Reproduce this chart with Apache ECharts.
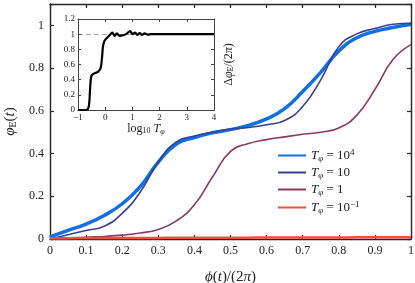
<!DOCTYPE html>
<html>
<head>
<meta charset="utf-8">
<script src="https://cdn.jsdelivr.net/npm/echarts@6/dist/echarts.min.js"></script>
<style>html,body{margin:0;padding:0;background:#fff}#c{width:415px;height:283px}</style>
</head>
<body>
<div id="c"></div>
<script>
// ---- data ----
var phi = [0, 0.05, 0.1, 0.15, 0.2, 0.25, 0.3, 0.35, 0.4, 0.45, 0.5, 0.55, 0.6, 0.65, 0.7, 0.75, 0.8, 0.85, 0.9, 0.95, 1];
var seriesNames = ['T1e4', 'T10', 'T1', 'T0.1'];
var valT1e4 = [0.01, 0.04, 0.07, 0.11, 0.165, 0.245, 0.36, 0.445, 0.475, 0.497, 0.512, 0.532, 0.562, 0.61, 0.69, 0.78, 0.88, 0.942, 0.972, 0.99, 1.005];
var valT10 = [0.0, 0.02, 0.04, 0.06, 0.12, 0.22, 0.36, 0.455, 0.482, 0.5, 0.515, 0.522, 0.535, 0.555, 0.62, 0.745, 0.9, 0.96, 0.985, 1.005, 1.01];
var valT1 = [0.0, 0.003, 0.008, 0.012, 0.018, 0.028, 0.045, 0.085, 0.16, 0.29, 0.41, 0.447, 0.465, 0.478, 0.49, 0.5, 0.52, 0.58, 0.7, 0.84, 0.91];
var valT01 = [0.004, 0.004, 0.005, 0.005, 0.005, 0.005, 0.005, 0.006, 0.006, 0.006, 0.006, 0.006, 0.007, 0.007, 0.007, 0.007, 0.007, 0.008, 0.008, 0.008, 0.008];
var xTicks = [0, 0.1, 0.2, 0.3, 0.4, 0.5, 0.6, 0.7, 0.8, 0.9, 1];
var yTicks = [0, 0.2, 0.4, 0.6, 0.8, 1];
// inset
var logT = [-1, -0.75, -0.68, -0.63, -0.59, -0.56, -0.53, -0.5, -0.44, -0.35, -0.25, -0.17, -0.12, -0.08, -0.03, 0.05, 0.16, 0.26, 0.35, 0.43, 0.53, 0.65, 0.77, 0.92, 1.0, 1.1, 1.18, 1.27, 1.35, 1.45, 1.55, 1.7, 2, 3, 4];
var dPhi = [0, 0, 0.003, 0.015, 0.08, 0.25, 0.40, 0.455, 0.475, 0.49, 0.51, 0.55, 0.68, 0.84, 0.91, 0.945, 0.985, 1.02, 0.978, 1.01, 0.978, 0.985, 1.0, 1.04, 1.0, 1.02, 0.99, 1.015, 0.99, 1.01, 0.995, 1.0, 1.0, 1.0, 1.0];
var insetXTicks = [-1, 0, 1, 2, 3, 4];
var insetYTicks = [0, 0.2, 0.4, 0.6, 0.8, 1, 1.2];

function pairs(xs, ys) { return xs.map(function (x, i) { return [x, ys[i]]; }); }

var FONT = 'Liberation Serif';
var frame = '#262626';
var richBase = {
  n: { fontFamily: FONT, fontSize: 15, color: '#222' },
  i: { fontFamily: FONT, fontSize: 15, fontStyle: 'italic', color: '#222' },
  sub: { fontFamily: FONT, fontSize: 10, color: '#222', verticalAlign: 'bottom', padding: [6, 0, 0, 0] }
};
var legendRich = {
  i: { fontFamily: FONT, fontSize: 13, fontStyle: 'italic', color: '#222', lineHeight: 15 },
  n: { fontFamily: FONT, fontSize: 13, color: '#222', lineHeight: 15 },
  sub: { fontFamily: FONT, fontSize: 9, fontStyle: 'italic', color: '#222', verticalAlign: 'bottom', lineHeight: 11 },
  sup: { fontFamily: FONT, fontSize: 9, color: '#222', verticalAlign: 'top', lineHeight: 10 }
};
var legendLabels = {
  'T1e4': '{i|T}{sub|φ}{n| = 10}{sup|4}',
  'T10': '{i|T}{sub|φ}{n| = 10}',
  'T1': '{i|T}{sub|φ}{n| = 1}',
  'T0.1': '{i|T}{sub|φ}{n| = 10}{sup|−1}'
};

function mainAxisCommon() {
  return {
    axisLine: { show: true, onZero: false, lineStyle: { color: frame, width: 1.4 } },
    axisTick: { show: true, inside: true, length: 4, lineStyle: { color: frame, width: 1.2 } },
    splitLine: { show: false }
  };
}
function insetAxisCommon() {
  return {
    axisLine: { show: true, onZero: false, lineStyle: { color: '#444', width: 1 } },
    axisTick: { show: true, inside: true, length: 3, lineStyle: { color: '#444', width: 1 } },
    splitLine: { show: false }
  };
}

var chart = echarts.init(document.getElementById('c'), null, { renderer: 'canvas' });
var option = {
  animation: false,
  backgroundColor: '#fff',
  grid: [
    { left: 50, top: 4, width: 361, height: 235, outerBoundsMode: 'none', containLabel: false },
    { left: 78, top: 19, width: 136, height: 91, show: true, backgroundColor: '#fff', borderWidth: 0, z: 5, outerBoundsMode: 'none', containLabel: false }
  ],
  legend: {
    orient: 'vertical', left: 277, top: 148, padding: 0, itemWidth: 28, itemHeight: 15, itemGap: 3,
    data: seriesNames,
    itemStyle: { opacity: 0 },
    formatter: function (name) { return legendLabels[name]; },
    textStyle: { rich: legendRich, fontFamily: FONT }
  },
  xAxis: [
    Object.assign(mainAxisCommon(), {
      type: 'value', gridIndex: 0, min: 0, max: 1, interval: 0.1, position: 'bottom',
      axisLabel: { fontFamily: FONT, fontSize: 12, color: '#222', margin: 6,
        formatter: function (v) { return xTicks.some(function (t) { return Math.abs(t - v) < 1e-6; }) ? String(+v.toFixed(1)) : ''; } },
      name: '{i|ϕ}{n|(}{i|t}{n|)/(2}{i|π}{n|)}', nameLocation: 'middle', nameGap: 31,
      nameTextStyle: { rich: richBase }
    }),
    Object.assign(mainAxisCommon(), {
      type: 'value', gridIndex: 0, min: 0, max: 1, interval: 0.1, position: 'top',
      axisLabel: { show: false }
    }),
    Object.assign(insetAxisCommon(), {
      type: 'value', gridIndex: 1, min: -1, max: 4, interval: 1, position: 'bottom', z: 6,
      axisLabel: { fontFamily: FONT, fontSize: 9, color: '#222', margin: 3,
        formatter: function (v) { return insetXTicks.indexOf(v) >= 0 ? String(v).replace('-', '−') : ''; } },
      name: '{n|log}{s|10}{n| }{i|T}{si|φ}', nameLocation: 'middle', nameGap: 1,
      nameTextStyle: { rich: {
        n: { fontFamily: FONT, fontSize: 12, color: '#222' },
        i: { fontFamily: FONT, fontSize: 12, fontStyle: 'italic', color: '#222' },
        s: { fontFamily: FONT, fontSize: 8, color: '#222', verticalAlign: 'bottom', padding: [5, 0, 0, 0] },
        si: { fontFamily: FONT, fontSize: 8, fontStyle: 'italic', color: '#222', verticalAlign: 'bottom', padding: [5, 0, 0, 0] }
      } }
    }),
    Object.assign(insetAxisCommon(), {
      type: 'value', gridIndex: 1, min: -1, max: 4, interval: 1, position: 'top', z: 6,
      axisLabel: { show: false }
    })
  ],
  yAxis: [
    Object.assign(mainAxisCommon(), {
      type: 'value', gridIndex: 0, min: 0, max: 1.1, interval: 0.2, position: 'left',
      axisLabel: { fontFamily: FONT, fontSize: 12, color: '#222', margin: 6,
        formatter: function (v) { return yTicks.some(function (t) { return Math.abs(t - v) < 1e-6; }) ? String(+v.toFixed(1)) : ''; } },
      name: '{i|φ}{sub|E}{n|(}{i|t}{n|)}', nameLocation: 'middle', nameGap: 30, nameRotate: 90,
      nameTextStyle: { rich: richBase }
    }),
    Object.assign(mainAxisCommon(), {
      type: 'value', gridIndex: 0, min: 0, max: 1.1, interval: 0.2, position: 'right',
      axisLabel: { show: false }
    }),
    Object.assign(insetAxisCommon(), {
      type: 'value', gridIndex: 1, min: 0, max: 1.2, interval: 0.2, position: 'left', z: 6,
      axisLabel: { fontFamily: FONT, fontSize: 9, color: '#222', margin: 3,
        formatter: function (v) { return insetYTicks.some(function (t) { return Math.abs(t - v) < 1e-6; }) ? String(+v.toFixed(1)) : ''; } }
    }),
    Object.assign(insetAxisCommon(), {
      type: 'value', gridIndex: 1, min: 0, max: 1.2, interval: 0.2, position: 'right', z: 6,
      axisLabel: { show: false },
      name: '{n|Δ}{i|φ}{s|E}{n|/(2}{i|π}{n|)}', nameLocation: 'middle', nameGap: 8, nameRotate: 90,
      nameTextStyle: { rich: {
        n: { fontFamily: FONT, fontSize: 12, color: '#222' },
        i: { fontFamily: FONT, fontSize: 12, fontStyle: 'italic', color: '#222' },
        s: { fontFamily: FONT, fontSize: 8, color: '#222', verticalAlign: 'bottom', padding: [5, 0, 0, 0] }
      } }
    })
  ],
  series: [
    { name: 'T1e4', type: 'line', xAxisIndex: 0, yAxisIndex: 0, data: pairs(phi, valT1e4), smooth: 0.5,
      showSymbol: false, symbol: 'none', lineStyle: { color: '#0f6fe3', width: 3.5 }, itemStyle: { color: '#0f6fe3' } },
    { name: 'T10', type: 'line', xAxisIndex: 0, yAxisIndex: 0, data: pairs(phi, valT10), smooth: 0.5,
      showSymbol: false, symbol: 'none', lineStyle: { color: '#3a3f94', width: 1.6 }, itemStyle: { color: '#3a3f94' } },
    { name: 'T1', type: 'line', xAxisIndex: 0, yAxisIndex: 0, data: pairs(phi, valT1), smooth: 0.5,
      showSymbol: false, symbol: 'none', lineStyle: { color: '#8a3a5e', width: 1.6 }, itemStyle: { color: '#8a3a5e' } },
    { name: 'T0.1', type: 'line', xAxisIndex: 0, yAxisIndex: 0, data: pairs(phi, valT01), smooth: 0.5,
      showSymbol: false, symbol: 'none', lineStyle: { color: '#ee4f3a', width: 2.5 }, itemStyle: { color: '#ee4f3a' } },
    { name: 'inset', type: 'line', xAxisIndex: 2, yAxisIndex: 2, data: pairs(logT, dPhi), smooth: 0.4,
      showSymbol: false, symbol: 'none', z: 7, lineStyle: { color: '#000', width: 2.2 },
      markLine: { silent: true, symbol: 'none', label: { show: false }, z: 6,
        lineStyle: { color: '#aaa', type: [5, 3], width: 1 }, data: [{ yAxis: 1 }] } }
  ]
};
chart.setOption(option);
</script>
</body>
</html>
